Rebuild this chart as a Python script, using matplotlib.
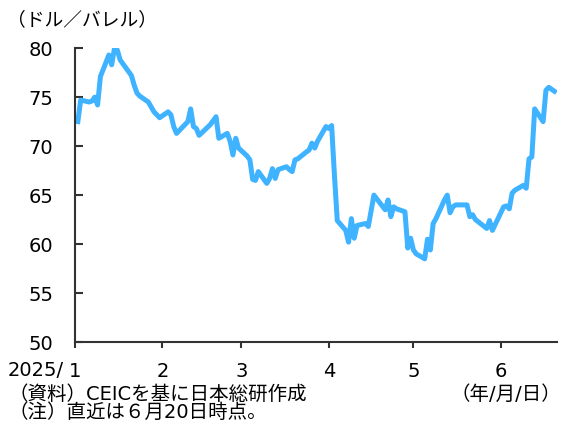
import numpy as np
import pandas as pd
import matplotlib
matplotlib.use('Agg')
import matplotlib.pyplot as plt
import matplotlib.dates as mdates

plt.rcParams['font.family'] = ['DejaVu Sans', 'Noto Sans CJK JP']

# price readings (USD/bbl), daily
dates = [
    '2025-01-02', '2025-01-03', '2025-01-06', '2025-01-07', '2025-01-08', '2025-01-09',
    '2025-01-10', '2025-01-13', '2025-01-14', '2025-01-15', '2025-01-16', '2025-01-17',
    '2025-01-21', '2025-01-22', '2025-01-23', '2025-01-24', '2025-01-27', '2025-01-28',
    '2025-01-29', '2025-01-30', '2025-01-31',
    '2025-02-03', '2025-02-04', '2025-02-05', '2025-02-06', '2025-02-07', '2025-02-10',
    '2025-02-11', '2025-02-12', '2025-02-13', '2025-02-14', '2025-02-18', '2025-02-19',
    '2025-02-20', '2025-02-21', '2025-02-24', '2025-02-25', '2025-02-26', '2025-02-27',
    '2025-02-28',
    '2025-03-03', '2025-03-04', '2025-03-05', '2025-03-06', '2025-03-07', '2025-03-10',
    '2025-03-11', '2025-03-12', '2025-03-13', '2025-03-14', '2025-03-17', '2025-03-18',
    '2025-03-19', '2025-03-20', '2025-03-21', '2025-03-24', '2025-03-25', '2025-03-26',
    '2025-03-27', '2025-03-28', '2025-03-31',
    '2025-04-01', '2025-04-02', '2025-04-03', '2025-04-04', '2025-04-07', '2025-04-08',
    '2025-04-09', '2025-04-10', '2025-04-11', '2025-04-14', '2025-04-15', '2025-04-16',
    '2025-04-17', '2025-04-21', '2025-04-22', '2025-04-23', '2025-04-24', '2025-04-25',
    '2025-04-28', '2025-04-29', '2025-04-30',
    '2025-05-01', '2025-05-02', '2025-05-05', '2025-05-06', '2025-05-07', '2025-05-08',
    '2025-05-09', '2025-05-12', '2025-05-13', '2025-05-14', '2025-05-15', '2025-05-16',
    '2025-05-19', '2025-05-20', '2025-05-21', '2025-05-22', '2025-05-23', '2025-05-27',
    '2025-05-28', '2025-05-29', '2025-05-30',
    '2025-06-02', '2025-06-03', '2025-06-04', '2025-06-05', '2025-06-06', '2025-06-09',
    '2025-06-10', '2025-06-11', '2025-06-12', '2025-06-13', '2025-06-16', '2025-06-17',
    '2025-06-18', '2025-06-20',
]
prices = [
    72.5, 74.7, 74.5, 74.6, 75.0, 74.2,
    77.1, 79.3, 78.3, 80.0, 79.8, 78.8,
    77.2, 76.2, 75.4, 75.1, 74.5, 74.0,
    73.5, 73.2, 72.9,
    73.5, 73.2, 72.0, 71.3, 71.6, 72.5,
    73.8, 72.0, 71.8, 71.1, 72.2, 72.6,
    73.0, 70.8, 71.3, 70.5, 69.1, 70.8,
    69.8,
    69.0, 68.6, 66.6, 66.5, 67.4, 66.2,
    66.7, 67.7, 66.7, 67.6, 67.9, 67.6,
    67.4, 68.6, 68.7, 69.4, 69.6, 70.3,
    69.8, 70.5, 72.0,
    71.8, 72.1, 67.0, 62.4, 61.4, 60.2,
    62.6, 60.6, 61.9, 62.1, 61.8, 63.4,
    65.0, 63.5, 64.5, 62.8, 63.8, 63.6,
    63.3, 59.6, 60.6,
    59.4, 59.0, 58.5, 60.5, 59.4, 62.1,
    62.6, 64.5, 65.0, 63.2, 63.8, 64.0,
    64.0, 64.0, 62.8, 63.0, 62.5, 61.6,
    62.4, 61.4, 62.0,
    63.8, 63.9, 63.6, 65.2, 65.5, 66.0,
    65.7, 68.7, 68.9, 73.8, 72.5, 75.7,
    76.0, 75.6,
]
month_ticks = ['2025-01-01', '2025-02-01', '2025-03-01', '2025-04-01', '2025-05-01', '2025-06-01']
month_labels = ['1', '2', '3', '4', '5', '6']

x = pd.to_datetime(dates)

fig = plt.figure(figsize=(5.62, 4.26), dpi=100)
ax = fig.add_axes([0.1335, 0.197, 0.858, 0.69])
ax.plot(x, prices, color='#3fb3ff', lw=3.6, solid_joinstyle='round')

ax.set_ylim(50, 80)
ax.set_yticks(range(50, 81, 5))
ax.set_xlim(pd.Timestamp('2025-01-01'), pd.Timestamp('2025-06-21'))
ax.set_xticks(pd.to_datetime(month_ticks))
ax.set_xticklabels(month_labels)

for s in ['top', 'right']:
    ax.spines[s].set_visible(False)
for s in ['left', 'bottom']:
    ax.spines[s].set_color('#333333')
    ax.spines[s].set_linewidth(1.5)
ax.tick_params(axis='y', direction='in', length=6, width=1.5, color='#333333',
               labelsize=14, pad=15.5)
ax.tick_params(axis='x', direction='out', length=4.5, width=1.5, color='#333333',
               labelsize=14, pad=10)

fig.text(0.012, 0.953, '（ドル／バレル）', fontsize=13.5, ha='left', va='center')
fig.text(0.114, 0.131, '2025/', fontsize=14, ha='right', va='center')
fig.text(0.998, 0.073, '（年/月/日）', fontsize=14, ha='right', va='center')
fig.text(0.015, 0.073, '（資料）CEICを基に日本総研作成', fontsize=14, ha='left', va='center')
fig.text(0.015, 0.031, '（注）直近は６月20日時点。', fontsize=14, ha='left', va='center')

fig.savefig('out.png', dpi=100)
